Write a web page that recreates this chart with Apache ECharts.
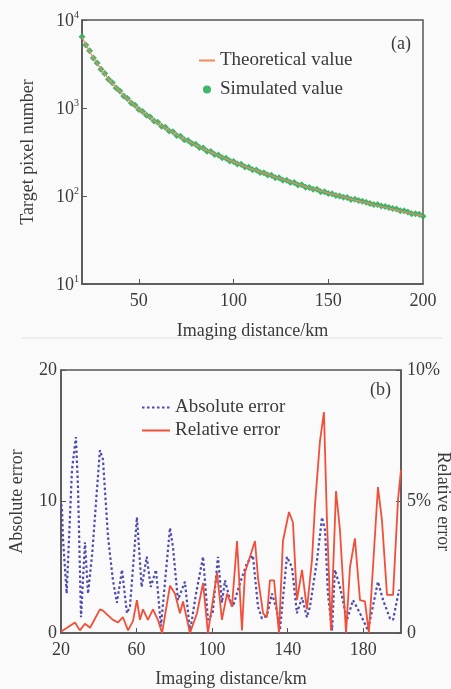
<!DOCTYPE html>
<html>
<head>
<meta charset="utf-8">
<script src="https://cdn.jsdelivr.net/npm/echarts@6/dist/echarts.min.js"></script>
<style>
html,body{margin:0;padding:0;background:#fafafa;}
#chart{width:451px;height:689px;}
</style>
</head>
<body>
<div id="chart"></div>
<script>
// ---- Panel (a): target pixel number vs imaging distance ----
var distA = [20,22,24,26,28,30,32,34,36,38,40,42,44,46,48,50,52,54,56,58,60,62,64,66,68,70,72,74,76,78,80,82,84,86,88,90,92,94,96,98,100,102,104,106,108,110,112,114,116,118,120,122,124,126,128,130,132,134,136,138,140,142,144,146,148,150,152,154,156,158,160,162,164,166,168,170,172,174,176,178,180,182,184,186,188,190,192,194,196,198,200];
var theoretical = [6400,5260,4400,3730,3200,2780,2430,2150,1910,1710,1540,1390,1265,1155,1060,975,900,835,775,722,675,632,593,558,526,496,469,444,421,400,380,362,345,329,315,301,288,276,265,254,244,235,226,217,209,202,195,188,182,176,170,164,159,154,149,145,140,136,132,128,124,121,118,114,111,108,105,103,100,97,95,92,90,88,86,84,82,80,78,76,74,73,71,69,68,66,65,63,62,61,59];
var simulated = [6450,5200,4460,3690,3250,2750,2470,2120,1940,1690,1560,1370,1285,1140,1075,960,915,825,790,712,688,620,605,548,536,488,478,437,428,394,388,355,351,323,320,296,292,272,269,250,247,231,229,213,212,199,197,185,184,173,172,161,161,151,151,142,142,133,134,126,125,119,119,112,112,107,106,101,100,97,96,91,92,89,87,85,82,80,80,77,76,74,72,71,68,68,66,63,63,62,59];
var topXTicks = [50,100,150,200];

// ---- Panel (b): errors vs imaging distance ----
var absDist = [20,20.5,21,23,25.8,27.9,29,30.6,32.7,34.3,36.5,40.6,42.2,44.9,47.5,49.6,52.3,54.9,56.5,60.2,62.7,65.4,67.5,70.3,72.9,77.7,79.3,81.9,85.6,88.3,91.5,95.2,97.8,100.3,103.1,105.2,106.8,109.5,111,114.8,118.4,121.6,124.3,126.4,129,131.7,134.3,135.9,139.6,142.3,144.9,147.6,150.2,151.8,155.5,158.2,159.8,161.3,163.5,165,167.7,171.4,174.6,178.3,182.5,187.8,190.5,194.2,195.8,199];
var absErr = [9.8,9.6,7.3,3.0,12.4,14.9,11.1,1.2,6.9,3.0,6.0,13.9,13.2,7.3,4.0,2.3,4.8,1.5,2.0,8.8,3.5,5.8,3.5,4.8,0.5,8.0,6.5,2.5,3.9,0.1,3.0,5.8,1.0,1.5,5.8,2.3,4.0,2.5,2.0,3.8,5.3,5.9,2.0,1.1,1.3,3.0,1.7,0.2,5.8,5.0,1.5,2.7,1.2,2.0,5.5,8.8,7.8,3.0,0.2,4.8,3.5,1.0,2.5,1.5,0.2,3.9,2.5,1.1,1.0,3.3];
var relDist = [20,20.5,23.2,27.4,30,32.7,35.4,40.6,42.2,47.5,50.2,52.8,55.5,58.1,60.2,61.8,63.4,66,68.7,71.3,73.5,77.7,80.3,83,84.6,88.3,92,95.2,97.8,102.6,105.2,107.9,110.5,113.2,115.8,117.4,122.7,124.3,127,129,130.6,132.8,135.4,137.5,140.7,142.8,144.9,147.6,150.2,152.9,154.5,157.1,159.2,160.8,162.9,165.6,167.7,170.9,173,175.6,178.3,180.9,183,187.8,189.9,192.6,195.8,198.4,200];
var relErr = [0.05,0,0.2,0.4,0.1,0.35,0.2,0.9,0.85,0.5,0.4,0.6,0.1,0.45,1.25,0.5,0.9,0.5,0.9,0.5,0,1.8,1.5,0.75,1.2,0,0.75,1.9,0,2.3,0.5,1.5,1.0,3.5,0.1,2.3,3.5,2.1,0.75,0.6,2.0,2.0,0,3.5,4.6,4.2,1.25,2.4,0.9,2.8,4.9,7.3,8.4,4.3,0.1,5.4,3.9,0,2.5,3.6,1.25,1.2,0,5.55,4.3,1.45,1.45,5.05,6.2];
var bottomXTicks = [20,60,100,140,180];

function pairs(xs, ys){ return xs.map(function(x,i){ return [x, ys[i]]; }); }

var FONT = 'Liberation Serif';
var TXT = '#3a3a3a';
var AX = '#555555';
var axLine = {show:true, lineStyle:{color:AX, width:1.5}};
var hideSym = {opacity:0};

var chart = echarts.init(document.getElementById('chart'), null, {renderer:'canvas'});
chart.setOption({
  backgroundColor:'#fafafa',
  animation:false,
  textStyle:{fontFamily:FONT, color:TXT},
  title:[
    {text:'(a)', left:386, top:30, textStyle:{fontFamily:FONT, fontSize:18, fontWeight:'normal', color:TXT}},
    {text:'(b)', left:365, top:376, textStyle:{fontFamily:FONT, fontSize:18, fontWeight:'normal', color:TXT}}
  ],
  graphic:[
    {type:'line', shape:{x1:22, y1:338, x2:442, y2:338}, style:{stroke:'#e4e4e4', lineWidth:1}, silent:true}
  ],
  legend:[
    {orient:'vertical', left:193, top:46, itemWidth:16, itemHeight:8, itemGap:10, itemTextGap:10,
     textStyle:{fontFamily:FONT, fontSize:19, color:TXT},
     data:[{name:'Theoretical value', itemStyle:hideSym},
           {name:'Simulated value', icon:'circle'}]},
    {orient:'vertical', left:136, top:393, itemWidth:28, itemHeight:10, itemGap:4, itemTextGap:12,
     textStyle:{fontFamily:FONT, fontSize:19, color:TXT},
     data:[{name:'Absolute error', itemStyle:hideSym},
           {name:'Relative error', itemStyle:hideSym}]}
  ],
  grid:[
    {left:82, right:28, top:20, height:264, show:true, borderColor:AX, borderWidth:1.5, backgroundColor:'transparent', outerBoundsMode:'none', containLabel:false},
    {left:61, right:50, top:370, height:263, show:true, borderColor:AX, borderWidth:1.5, backgroundColor:'transparent', outerBoundsMode:'none', containLabel:false}
  ],
  xAxis:[
    {type:'value', gridIndex:0, min:20, max:200,
     name:'Imaging distance/km', nameLocation:'middle', nameGap:38, nameMoveOverlap:false,
     nameTextStyle:{fontFamily:FONT, fontSize:18, color:TXT},
     axisLine:axLine, splitLine:{show:false},
     axisTick:{show:true, inside:true, length:5, customValues:[50,100,150], lineStyle:{color:AX}},
     axisLabel:{customValues:topXTicks, fontFamily:FONT, fontSize:18, color:TXT, margin:8}},
    {type:'value', gridIndex:1, min:20, max:200,
     name:'Imaging distance/km', nameLocation:'middle', nameGap:37, nameMoveOverlap:false,
     nameTextStyle:{fontFamily:FONT, fontSize:18, color:TXT},
     axisLine:axLine, splitLine:{show:false},
     axisTick:{show:true, inside:true, length:5, customValues:[60,100,140,180], lineStyle:{color:AX}},
     axisLabel:{customValues:bottomXTicks, fontFamily:FONT, fontSize:18, color:TXT, margin:8}}
  ],
  yAxis:[
    {type:'log', logBase:10, gridIndex:0, min:10, max:10000,
     name:'Target pixel number', nameLocation:'middle', nameGap:45, nameMoveOverlap:false,
     nameTextStyle:{fontFamily:FONT, fontSize:18, color:TXT},
     axisLine:axLine, splitLine:{show:false}, minorTick:{show:false},
     axisTick:{show:true, inside:true, length:5, lineStyle:{color:AX}},
     axisLabel:{margin:3, formatter:function(v){ return '{b|10}{s|' + Math.round(Math.log10(v)) + '}'; },
       rich:{b:{fontFamily:FONT, fontSize:18, color:TXT, lineHeight:20, verticalAlign:'bottom'},
             s:{fontFamily:FONT, fontSize:10, color:TXT, lineHeight:10, verticalAlign:'top'}}}},
    {type:'value', gridIndex:1, min:0, max:20, interval:10,
     name:'Absolute error', nameLocation:'middle', nameGap:35, nameMoveOverlap:false,
     nameTextStyle:{fontFamily:FONT, fontSize:18, color:TXT},
     axisLine:axLine, splitLine:{show:false},
     axisTick:{show:true, inside:true, length:5, lineStyle:{color:AX}},
     axisLabel:{fontFamily:FONT, fontSize:18, color:TXT, margin:4}},
    {type:'value', gridIndex:1, position:'right', min:0, max:10, interval:5,
     name:'Relative error', nameLocation:'middle', nameGap:33, nameRotate:-90, nameMoveOverlap:false,
     nameTextStyle:{fontFamily:FONT, fontSize:18, color:TXT},
     axisLine:axLine, splitLine:{show:false},
     axisTick:{show:true, inside:true, length:5, lineStyle:{color:AX}},
     axisLabel:{fontFamily:FONT, fontSize:18, color:TXT, margin:6,
       formatter:function(v){ return v === 0 ? '0' : v + '%'; }}}
  ],
  series:[
    {name:'Theoretical value', type:'line', xAxisIndex:0, yAxisIndex:0,
     data:pairs(distA, theoretical), showSymbol:false, symbol:'none',
     lineStyle:{color:'#f08a62', width:1.2}, itemStyle:{color:'#f08a62'}, z:3},
    {name:'Simulated value', type:'scatter', xAxisIndex:0, yAxisIndex:0,
     data:pairs(distA, simulated), symbol:'diamond', symbolSize:7,
     itemStyle:{color:'#2fae5c', opacity:0.9}, z:2},
    {name:'Absolute error', type:'line', xAxisIndex:1, yAxisIndex:1,
     data:pairs(absDist, absErr), showSymbol:false, symbol:'none',
     lineStyle:{color:'#4b4bb0', width:2.2, type:[2.5,2.5]}, itemStyle:{color:'#4b4bb0'}, z:2},
    {name:'Relative error', type:'line', xAxisIndex:1, yAxisIndex:2,
     data:pairs(relDist, relErr), showSymbol:false, symbol:'none',
     lineStyle:{color:'#f0503a', width:1.8}, itemStyle:{color:'#f0503a'}, z:3}
  ]
});
</script>
</body>
</html>
